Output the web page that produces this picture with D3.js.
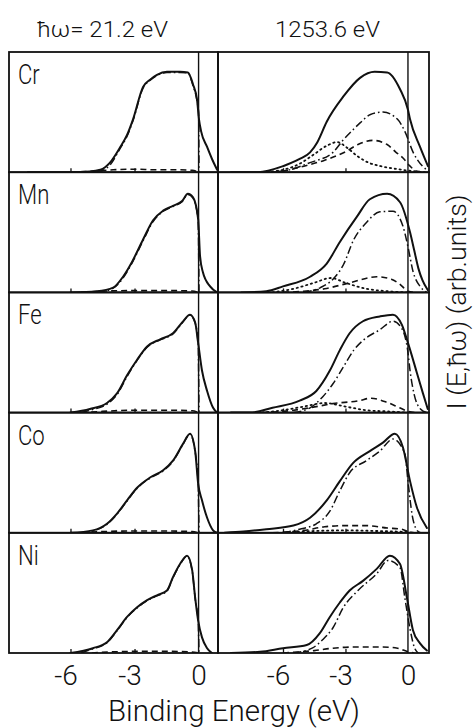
<!DOCTYPE html>
<html>
<head>
<meta charset="utf-8">
<script src="https://cdn.jsdelivr.net/npm/d3@7"></script>
<style>
  html, body { margin: 0; padding: 0; background: #fff; }
  svg { display: block; }
  text { font-family: Roboto, "DejaVu Sans", sans-serif; font-weight: 300; fill: #111; }
</style>
</head>
<body>
<script>
// ---------------- DATA ----------------
const elements = ["Cr", "Mn", "Fe", "Co", "Ni"];
const columnTitles = ["ħω= 21.2 eV", "1253.6 eV"];
const energyTicks = [-6, -3, 0];
const xLabel = "Binding Energy (eV)";
const yLabel = "I (E,ħω) (arb.units)";

// [binding energy (eV), intensity (panel fraction)]
const crUpsSolid   = [[-8,0],[-6,0],[-5.1,0.005],[-4.6,0.02],[-4.15,0.08],[-3.7,0.2],[-3.35,0.31],[-3.07,0.44],[-2.6,0.71],[-2.27,0.77],[-1.95,0.81],[-1.48,0.835],[-0.87,0.835],[-0.5,0.83],[-0.26,0.73],[-0.07,0.6],[0.02,0.44],[0.12,0.34],[0.4,0.21],[0.63,0.11],[0.87,0.02]];
const crUpsDashDot = [[-5.5,0],[-4.6,0.01],[-4.15,0.06],[-3.7,0.19],[-3.35,0.3],[-3.07,0.43],[-2.6,0.7],[-2.27,0.765],[-1.95,0.805],[-1.48,0.83],[-0.87,0.83],[-0.5,0.825],[-0.26,0.72],[-0.07,0.59],[0,0.5],[0.02,0]];
const crUpsDashed  = [[-6,0],[-4.8,0.01],[-4,0.02],[-3,0.025],[-2,0.02],[-1,0.02],[-0.3,0.015],[0,0]];

const crXpsSolid   = [[-8.5,0],[-7.2,0],[-6,0.05],[-5.2,0.11],[-4.7,0.165],[-4.35,0.25],[-3.9,0.42],[-3.1,0.63],[-2.3,0.785],[-1.6,0.835],[-1,0.83],[-0.38,0.69],[0,0.52],[0.1,0.44],[0.58,0.21],[0.96,0.05]];
const crXpsDashDot = [[-7,0],[-6,0.01],[-4.7,0.08],[-3.6,0.165],[-3.1,0.27],[-2.6,0.36],[-2.3,0.41],[-1.8,0.48],[-1.2,0.5],[-0.5,0.44],[-0.15,0.34],[0.25,0.165],[0.7,0.05],[1,0.01]];
const crXpsDashed  = [[-7,0],[-6,0.01],[-5,0.05],[-4,0.1],[-3,0.17],[-2.4,0.23],[-1.7,0.265],[-1,0.23],[-0.6,0.17],[-0.25,0.12],[0.1,0.05],[0.4,0.01],[0.8,0]];
const crXpsDotted  = [[-7,0],[-6,0.02],[-5.2,0.07],[-4.5,0.15],[-3.9,0.22],[-3.4,0.25],[-2.9,0.2],[-2.4,0.13],[-1.9,0.08],[-1.3,0.05],[-0.5,0.025],[0.2,0.01],[0.8,0]];

const mnUpsSolid   = [[-6,0],[-4.76,0.01],[-4,0.04],[-3.54,0.13],[-3.1,0.26],[-2.6,0.44],[-2.13,0.6],[-1.66,0.68],[-1.2,0.72],[-0.77,0.76],[-0.5,0.82],[-0.26,0.79],[-0.02,0.61],[0.07,0.3],[0.2,0.17],[0.54,0.05],[0.87,0]];
const mnUpsDashDot = [[-5.5,0],[-4.5,0.01],[-4,0.035],[-3.54,0.12],[-3.1,0.25],[-2.6,0.43],[-2.13,0.59],[-1.66,0.675],[-1.2,0.715],[-0.77,0.755],[-0.5,0.815],[-0.26,0.785],[-0.02,0.6],[0.02,0]];
const mnUpsDashed  = [[-5.5,0],[-4.5,0.01],[-3,0.015],[-1.5,0.015],[-0.3,0.012],[0,0]];

const mnXpsSolid   = [[-8,0],[-6.8,0.01],[-6,0.05],[-4.7,0.13],[-3.9,0.24],[-3.27,0.42],[-2.45,0.63],[-1.83,0.775],[-1,0.82],[-0.38,0.75],[0.1,0.5],[0.3,0.35],[0.5,0.2],[0.7,0.1],[0.95,0.02]];
const mnXpsDashDot = [[-5,0],[-4.2,0.04],[-3.6,0.11],[-3.1,0.23],[-2.6,0.44],[-2,0.58],[-1.35,0.67],[-0.72,0.675],[-0.24,0.55],[0,0.38],[0.25,0.17],[0.58,0.05],[0.9,0]];
const mnXpsDashed  = [[-6,0],[-5,0.01],[-4,0.03],[-2.8,0.08],[-1.5,0.13],[-0.8,0.11],[-0.4,0.07],[0,0.01],[0.3,0]];
const mnXpsDotted  = [[-6.5,0],[-5.5,0.03],[-4.5,0.08],[-3.7,0.12],[-3,0.08],[-2,0.03],[-1,0.01],[0,0]];

const feUpsSolid   = [[-6,0],[-5.09,0.03],[-4.29,0.08],[-3.82,0.16],[-3.35,0.31],[-2.88,0.44],[-2.41,0.55],[-1.8,0.61],[-1.2,0.66],[-0.77,0.75],[-0.4,0.815],[-0.16,0.75],[-0.02,0.58],[0.16,0.35],[0.4,0.18],[0.68,0.04],[0.87,0]];
const feUpsDashDot = [[-5.5,0],[-5.09,0.02],[-4.29,0.07],[-3.82,0.15],[-3.35,0.3],[-2.88,0.435],[-2.41,0.545],[-1.8,0.605],[-1.2,0.655],[-0.77,0.745],[-0.4,0.81],[-0.16,0.745],[-0.02,0.57],[0.02,0]];
const feUpsDashed  = [[-5.5,0],[-4.5,0.01],[-3,0.02],[-1.5,0.02],[-0.3,0.015],[0,0]];

const feXpsSolid   = [[-8.5,0],[-7.6,0],[-6.5,0.04],[-5.2,0.1],[-4.4,0.18],[-3.75,0.35],[-3.27,0.52],[-2.8,0.66],[-2.16,0.76],[-1.35,0.8],[-0.72,0.815],[-0.29,0.73],[0,0.58],[0.43,0.33],[0.72,0.16],[0.95,0.03]];
const feXpsDashDot = [[-5.5,0],[-4.7,0.04],[-4.1,0.13],[-3.6,0.24],[-3.1,0.38],[-2.6,0.52],[-2.16,0.6],[-1.35,0.69],[-0.72,0.76],[-0.3,0.7],[0,0.5],[0.1,0.35],[0.3,0.15],[0.6,0.03],[0.9,0]];
const feXpsDashed  = [[-7,0],[-6,0.01],[-4.7,0.04],[-3.6,0.075],[-2.3,0.1],[-1.8,0.12],[-1,0.085],[-0.4,0.04],[0,0.01],[0.4,0]];
const feXpsDotted  = [[-7,0],[-6,0.02],[-5,0.05],[-4,0.08],[-3,0.05],[-2,0.02],[-1,0.01],[0,0]];

const coUpsSolid   = [[-6,0],[-4.95,0.02],[-4.29,0.075],[-3.82,0.16],[-3.35,0.27],[-2.88,0.375],[-2.27,0.46],[-1.66,0.52],[-1.2,0.6],[-0.73,0.74],[-0.4,0.825],[-0.16,0.68],[-0.02,0.41],[0.16,0.27],[0.4,0.125],[0.68,0.02],[0.87,0]];
const coUpsDashDot = [[-5.5,0],[-4.95,0.015],[-4.29,0.07],[-3.82,0.155],[-3.35,0.265],[-2.88,0.37],[-2.27,0.455],[-1.66,0.515],[-1.2,0.595],[-0.73,0.735],[-0.4,0.82],[-0.16,0.675],[-0.02,0.4],[0.02,0]];
const coUpsDashed  = [[-5.5,0],[-4.5,0.01],[-3,0.015],[-1.5,0.015],[-0.3,0.01],[0,0]];

const coXpsSolid   = [[-8.8,0],[-7.9,0.01],[-6.8,0.03],[-5.5,0.06],[-4.7,0.125],[-3.9,0.27],[-3.27,0.43],[-2.64,0.58],[-1.83,0.68],[-1.2,0.75],[-0.63,0.825],[-0.24,0.71],[0.1,0.43],[0.43,0.21],[0.91,0.04]];
const coXpsDashDot = [[-6,0],[-5.2,0.03],[-4.4,0.075],[-3.75,0.18],[-3.27,0.35],[-2.8,0.5],[-2,0.6],[-1.35,0.68],[-0.72,0.78],[-0.15,0.66],[0,0.43],[0.2,0.15],[0.4,0.03],[0.6,0]];
const coXpsDashed  = [[-6.5,0],[-5,0.02],[-4,0.05],[-3,0.06],[-2,0.06],[-1,0.04],[-0.3,0.03],[0,0.01],[0.3,0]];
const coXpsDotted  = [[-6,0],[-4.5,0.015],[-3,0.02],[-1.5,0.015],[0,0.005],[0.3,0]];

const niUpsSolid   = [[-6,0],[-4.95,0.04],[-4.29,0.09],[-3.82,0.19],[-3.35,0.3],[-2.88,0.38],[-2.41,0.44],[-1.95,0.48],[-1.48,0.52],[-1.2,0.63],[-0.87,0.74],[-0.54,0.81],[-0.3,0.69],[-0.16,0.46],[-0.02,0.27],[0.16,0.13],[0.4,0.04],[0.63,0]];
const niUpsDashDot = [[-5.5,0],[-4.95,0.035],[-4.29,0.085],[-3.82,0.185],[-3.35,0.295],[-2.88,0.375],[-2.41,0.435],[-1.95,0.475],[-1.48,0.515],[-1.2,0.625],[-0.87,0.735],[-0.54,0.805],[-0.3,0.685],[-0.16,0.455],[-0.02,0.26],[0.02,0]];
const niUpsDashed  = [[-5,0],[-4,0.01],[-2,0.015],[-0.5,0.01],[0,0]];

const niXpsSolid   = [[-8.5,0],[-7.1,0.01],[-6,0.04],[-4.86,0.066],[-4.23,0.165],[-3.75,0.3],[-3.27,0.42],[-2.8,0.52],[-2.16,0.6],[-1.5,0.7],[-0.87,0.81],[-0.38,0.74],[-0.05,0.46],[0.24,0.19],[0.58,0.08],[0.91,0.02]];
const niXpsDashDot = [[-5.5,0],[-4.6,0.04],[-4.1,0.11],[-3.6,0.21],[-3.1,0.38],[-2.4,0.52],[-1.5,0.66],[-0.96,0.77],[-0.38,0.71],[-0.15,0.46],[0.1,0.2],[0.3,0.05],[0.5,0]];
const niXpsDashed  = [[-6,0],[-4.5,0.02],[-3.6,0.04],[-2.5,0.05],[-1.2,0.05],[-0.5,0.04],[0,0.01],[0.3,0]];

// lookup table built from the arrays above
const panelData = {
  Cr: { ups: { solid: crUpsSolid, dashdot: crUpsDashDot, dashed: crUpsDashed },
        xps: { solid: crXpsSolid, dashdot: crXpsDashDot, dashed: crXpsDashed, dotted: crXpsDotted } },
  Mn: { ups: { solid: mnUpsSolid, dashdot: mnUpsDashDot, dashed: mnUpsDashed },
        xps: { solid: mnXpsSolid, dashdot: mnXpsDashDot, dashed: mnXpsDashed, dotted: mnXpsDotted } },
  Fe: { ups: { solid: feUpsSolid, dashdot: feUpsDashDot, dashed: feUpsDashed },
        xps: { solid: feXpsSolid, dashdot: feXpsDashDot, dashed: feXpsDashed, dotted: feXpsDotted } },
  Co: { ups: { solid: coUpsSolid, dashdot: coUpsDashDot, dashed: coUpsDashed },
        xps: { solid: coXpsSolid, dashdot: coXpsDashDot, dashed: coXpsDashed, dotted: coXpsDotted } },
  Ni: { ups: { solid: niUpsSolid, dashdot: niUpsDashDot, dashed: niUpsDashed },
        xps: { solid: niXpsSolid, dashdot: niXpsDashDot, dashed: niXpsDashed } }
};

// ---------------- LAYOUT ----------------
const W = 476, H = 728;
const svg = d3.select("body").append("svg").attr("width", W).attr("height", H);

const columns = [
  { key: "ups", x: d3.scaleLinear().domain([-8.88, 0.91]).range([9, 218]) },
  { key: "xps", x: d3.scaleLinear().domain([-9.12, 1.01]).range([218, 429]) }
];
const rowBand = d3.scaleBand().domain(elements).range([52, 653]).padding(0);

const styles = {
  dotted:  { dash: "1.3,3.6", width: 1.8, cap: "round" },
  dashed:  { dash: "6,4", width: 1.6, cap: "butt" },
  dashdot: { dash: "8,3,1.6,3", width: 1.5, cap: "butt" },
  solid:   { dash: null, width: 2, cap: "round" }
};
const drawOrder = ["dotted", "dashed", "dashdot", "solid"];

const defs = svg.append("defs");

elements.forEach((el, ri) => {
  const top = rowBand(el), bottom = top + rowBand.bandwidth();
  const y = d3.scaleLinear().domain([0, 1]).range([bottom, top]);
  columns.forEach((col, ci) => {
    const x = col.x;
    const [x0, x1] = x.range();
    const clipId = `clip-${el}-${col.key}`;
    defs.append("clipPath").attr("id", clipId)
      .append("rect").attr("x", x0).attr("y", top).attr("width", x1 - x0).attr("height", bottom - top);

    const g = svg.append("g");
    const line = d3.line().x(d => x(d[0])).y(d => y(d[1])).curve(d3.curveMonotoneX);
    const curves = g.append("g").attr("clip-path", `url(#${clipId})`);
    drawOrder.forEach(s => {
      const data = panelData[el][col.key][s];
      if (!data) return;
      const st = styles[s];
      curves.append("path").datum(data)
        .attr("d", line)
        .attr("fill", "none")
        .attr("stroke", "#111")
        .attr("stroke-width", st.width)
        .attr("stroke-linecap", st.cap)
        .attr("stroke-linejoin", "round")
        .attr("stroke-dasharray", st.dash);
    });

    // Fermi level line
    g.append("line")
      .attr("x1", x(0)).attr("x2", x(0)).attr("y1", top).attr("y2", bottom)
      .attr("stroke", "#111").attr("stroke-width", 1.4);

    // small inner ticks on the panel baseline
    const tickAxis = d3.axisBottom(x).tickValues([-6, -3]).tickSize(-4).tickFormat("");
    const ta = g.append("g").attr("transform", `translate(0,${bottom})`).call(tickAxis);
    ta.select(".domain").remove();
    ta.selectAll("line").attr("stroke", "#111").attr("stroke-width", 1.3);

    // frame
    g.append("rect")
      .attr("x", x0).attr("y", top).attr("width", x1 - x0).attr("height", bottom - top)
      .attr("fill", "none").attr("stroke", "#111").attr("stroke-width", 1.8);

    // element label
    if (ci === 0) {
      g.append("text")
        .attr("transform", `translate(${x0 + 9},${top + 32}) scale(0.82,1)`)
        .attr("font-size", 27)
        .text(el);
    }
  });
});

// bottom axes with tick labels
columns.forEach(col => {
  const ax = d3.axisBottom(col.x).tickValues(energyTicks).tickSize(0)
    .tickFormat(d => d < 0 ? "-" + Math.abs(d) : String(d));
  const ag = svg.append("g").attr("transform", `translate(0,653)`).call(ax);
  ag.select(".domain").remove();
  ag.selectAll("text")
    .attr("font-size", 28).attr("font-family", null).attr("fill", "#111")
    .attr("y", 32).attr("dy", null)
    .each(function (d) {
      if (d < 0) {
        // centre the digit on the tick, the minus sits to its left
        const t = d3.select(this);
        const probe = svg.append("text").attr("font-size", 28).text("-");
        const mw = probe.node().getComputedTextLength();
        probe.remove();
        t.attr("dx", -mw / 2 - 1);
      }
    });
});

// column titles
svg.append("text").attr("x", 37).attr("y", 37).attr("font-size", 22)
  .attr("textLength", 131).attr("lengthAdjust", "spacingAndGlyphs").text(columnTitles[0]);
svg.append("text").attr("x", 275).attr("y", 37).attr("font-size", 22)
  .attr("textLength", 105).attr("lengthAdjust", "spacingAndGlyphs").text(columnTitles[1]);

// x label
svg.append("text").attr("x", 108).attr("y", 721).attr("font-size", 30)
  .attr("textLength", 252).attr("lengthAdjust", "spacingAndGlyphs").text(xLabel);

// y label (right side, rotated)
svg.append("text")
  .attr("transform", "translate(466,302) rotate(-90)")
  .attr("text-anchor", "middle")
  .attr("font-size", 25)
  .attr("textLength", 215).attr("lengthAdjust", "spacingAndGlyphs")
  .text(yLabel);
</script>
</body>
</html>
